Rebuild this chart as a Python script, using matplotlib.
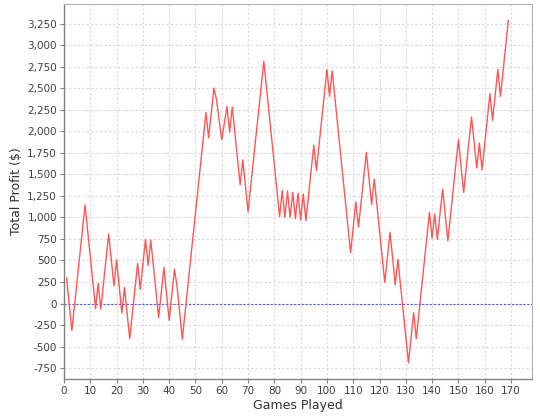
import matplotlib
matplotlib.use("Agg")
import matplotlib.pyplot as plt
from matplotlib.ticker import MultipleLocator, FuncFormatter

# turning points of the profit curve (games between them lie on straight runs)
games = [1, 3, 8, 12, 13, 14, 17, 19, 20, 22, 23, 25, 28, 29, 31, 32, 33, 36, 38, 40,
         42, 43, 45, 54, 55, 57, 58, 60, 62, 63, 64, 67, 68, 70, 76, 82, 83, 84, 85, 86,
         87, 88, 89, 90, 91, 92, 95, 96, 100, 101, 102, 109, 111, 112, 115, 117, 118, 122,
         124, 126, 127, 131, 133, 134, 139, 140, 141, 142, 144, 146, 150, 152, 155, 157,
         158, 159, 162, 163, 165, 166, 169]
profit = [295, -315, 1145, -58, 233, -66, 807, 205, 504, -109, 186, -408, 466, 163, 745,
          443, 737, -163, 419, -195, 398, 200, -412, 2220, 1925, 2505, 2368, 1902, 2290,
          1992, 2283, 1378, 1669, 1067, 2815, 1009, 1312, 1002, 1307, 1002, 1289, 986, 1282,
          970, 1273, 962, 1841, 1545, 2718, 2407, 2703, 590, 1180, 888, 1755, 1153, 1445,
          245, 827, 217, 513, -687, -109, -408, 1060, 757, 1040, 746, 1328, 729, 1902,
          1289, 2167, 1573, 1864, 1553, 2438, 2127, 2718, 2407, 3289]

x_ticks = list(range(0, 171, 10))
y_ticks = list(range(-750, 3251, 250))

fig = plt.figure(figsize=(5.4, 4.2), dpi=100)
ax = fig.add_axes([64 / 540, 1 - 379 / 420, (532 - 64) / 540, (379 - 4) / 420])

ax.plot(games, profit, color="#ff5555", linewidth=1.0, zorder=3)
ax.axhline(0, color="#5555ff", linewidth=0.8, linestyle=(0, (2, 1.5)), zorder=2)

ax.set_xlim(0, 178)
ax.set_ylim(-877, 3480)
ax.set_xticks(x_ticks)
ax.set_yticks(y_ticks)
ax.yaxis.set_major_formatter(FuncFormatter(lambda v, p: f"{int(v):,}"))

ax.grid(True, color="#d8d8d8", linestyle=(0, (2, 2)), linewidth=0.8)
ax.set_axisbelow(True)

for side in ["top", "right"]:
    ax.spines[side].set_color("#b0b0b0")
    ax.spines[side].set_linewidth(0.8)
for side in ["left", "bottom"]:
    ax.spines[side].set_color("#808080")
    ax.spines[side].set_linewidth(1.0)

ax.tick_params(direction="out", length=3, width=0.8, color="#808080",
               labelsize=7.5, labelcolor="#404040", pad=2)

ax.set_xlabel("Games Played", fontsize=9, color="#303030", labelpad=2)
ax.set_ylabel("Total Profit ($)", fontsize=9, color="#303030", labelpad=3)

fig.savefig("out.png", dpi=100, facecolor="white")
